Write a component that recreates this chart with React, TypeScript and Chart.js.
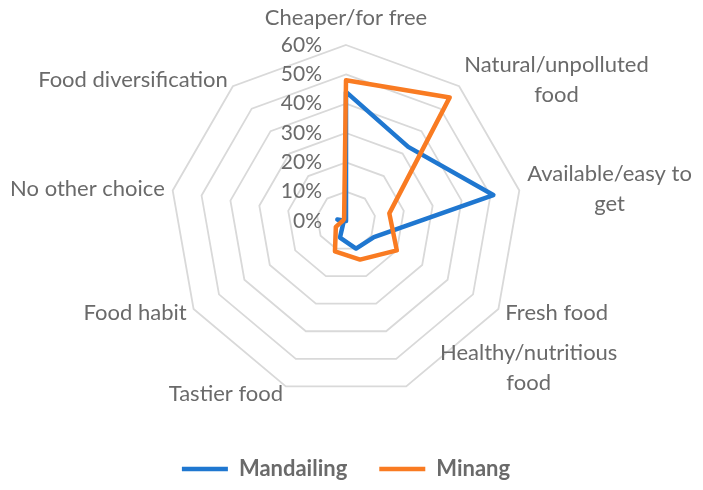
import React, { useEffect, useRef } from "react";
import { Chart, registerables } from "chart.js";

Chart.register(...registerables);

const categories = [
  "Cheaper/for free",
  "Natural/unpolluted food",
  "Available/easy to get",
  "Fresh food",
  "Healthy/nutritious food",
  "Tastier food",
  "Food habit",
  "No other choice",
  "Food diversification",
];

const categoryLines = [
  ["Cheaper/for free"],
  ["Natural/unpolluted", "food"],
  ["Available/easy to", "get"],
  ["Fresh food"],
  ["Healthy/nutritious", "food"],
  ["Tastier food"],
  ["Food habit"],
  ["No other choice"],
  ["Food diversification"],
];

const mandailing = [44, 33, 51, 11, 10, 6, 1, 3, 0];
const minang = [48, 55, 15, 20, 14, 11, 4, 1, 1];

const tickMin = 0;
const tickMax = 60;
const tickStep = 10;

const FONT = "Lato, 'Open Sans', sans-serif";
const TEXT = "#6a6a6a";
const BLUE = "#1f77d0";
const ORANGE = "#f97b22";

const radarText = {
  id: "radarText",
  afterDraw(chart: any) {
    const scale = chart.scales.r;
    const ctx = chart.ctx;
    ctx.save();
    ctx.font = `21px ${FONT}`;
    ctx.fillStyle = TEXT;
    ctx.textAlign = "right";
    ctx.textBaseline = "middle";
    scale.ticks.forEach((t: any) => {
      const d = scale.getDistanceFromCenterForValue(t.value);
      ctx.fillText(`${t.value}%`, scale.xCenter - 24, scale.yCenter - d);
    });
    ctx.font = `22px ${FONT}`;
    const lineH = 30;
    ctx.textAlign = "center";
    categoryLines.forEach((lines, i) => {
      const p = scale.getPointPosition(i, scale.drawingArea + 8);
      const cos = Math.cos(p.angle);
      const sin = Math.sin(p.angle);
      const w = Math.max(...lines.map((l) => ctx.measureText(l).width));
      const h = lines.length * lineH;
      let left: number;
      if (Math.abs(cos) < 0.05) left = p.x - w / 2;
      else if (cos > 0) left = p.x;
      else left = p.x - w;
      let top: number;
      if (sin < -0.95) top = p.y - h - 4;
      else top = p.y - h / 2;
      // lower-right wrapped label sits higher and further out, as in the source
      if (lines.length > 1 && cos > 0 && sin > 0.5) {
        left += 31;
        top -= 26;
      }
      lines.forEach((l, k) => {
        ctx.fillText(l, left + w / 2, top + lineH * (k + 0.5));
      });
    });
    ctx.restore();
  },
};

export default function App() {
  const ref = useRef<HTMLCanvasElement>(null);
  useEffect(() => {
    document.body.style.margin = "0";
    const chart = new Chart(ref.current as HTMLCanvasElement, {
      type: "radar",
      data: {
        labels: categories,
        datasets: [
          {
            label: "Mandailing",
            data: mandailing,
            borderColor: BLUE,
            backgroundColor: BLUE,
            borderWidth: 4.5,
            borderJoinStyle: "round",
            borderCapStyle: "round",
            fill: false,
            pointRadius: 0,
            pointHitRadius: 0,
            pointStyle: "line",
            order: 2,
          },
          {
            label: "Minang",
            data: minang,
            borderColor: ORANGE,
            backgroundColor: ORANGE,
            borderWidth: 4.5,
            borderJoinStyle: "round",
            borderCapStyle: "round",
            fill: false,
            pointRadius: 0,
            pointHitRadius: 0,
            pointStyle: "line",
            order: 1,
          },
        ],
      },
      options: {
        responsive: false,
        animation: false,
        layout: { padding: { left: 0, right: 11, top: 45, bottom: 0 } },
        scales: {
          r: {
            min: tickMin,
            max: tickMax,
            ticks: { stepSize: tickStep, display: false },
            grid: { color: "#d9d9d9", lineWidth: 1.8 },
            angleLines: { display: false },
            pointLabels: { display: false },
          },
        },
        plugins: {
          tooltip: { enabled: false },
          title: {
            display: true,
            position: "bottom",
            weight: 500,
            text: "",
            font: { size: 10, lineHeight: 1.2 },
            padding: { top: 8, bottom: 8 },
          },
          legend: {
            position: "bottom",
            labels: {
              usePointStyle: true,
              pointStyleWidth: 46,
              padding: 32,
              color: TEXT,
              font: { family: FONT, size: 22, weight: "bold" },
              sort: (a: any, b: any) => a.datasetIndex - b.datasetIndex,
            },
          },
        },
      },
      plugins: [radarText],
    } as any);
    return () => chart.destroy();
  }, []);
  return (
    <div style={{ width: 703, height: 490 }}>
      <canvas ref={ref} width={703} height={490} style={{ display: "block" }} />
    </div>
  );
}
